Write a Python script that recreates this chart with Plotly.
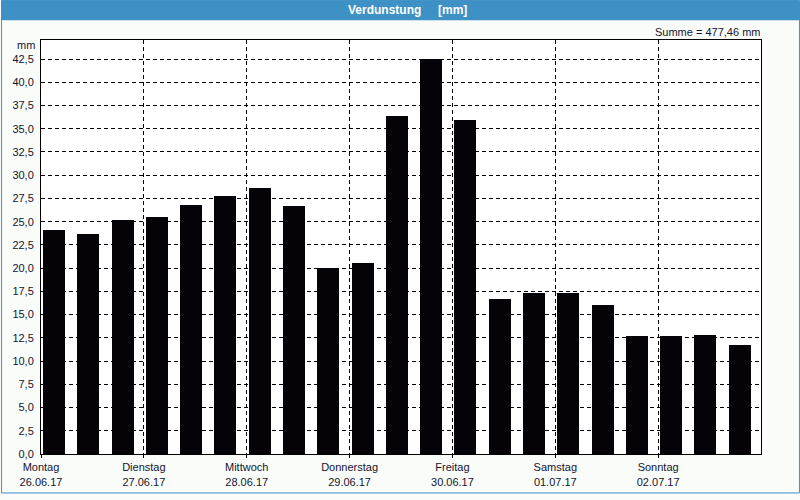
import plotly.graph_objects as go

# ---- data ----
day_names = ["Montag", "Dienstag", "Mittwoch", "Donnerstag", "Freitag", "Samstag", "Sonntag"]
day_dates = ["26.06.17", "27.06.17", "28.06.17", "29.06.17", "30.06.17", "01.07.17", "02.07.17"]
values = [24.1, 23.7, 25.2, 25.5, 26.75, 27.8, 28.6,
          26.65, 20.05, 20.6, 36.4, 42.55, 35.9, 16.65,
          17.3, 17.3, 16.0, 12.65, 12.65, 12.85, 11.7]
bars_per_day = 3
summe_text = "Summe = 477,46 mm"
title_text = "Verdunstung\u00a0\u00a0\u00a0\u00a0\u00a0[mm]"

# ---- layout constants ----
W, H = 800, 500
ML, MR, MT, MB = 40, 39, 40, 40
PW, PH = W - ML - MR, H - MT - MB
BLUE = "#3d91c5"
TXT = "#14142e"
FONT = "Liberation Sans, Arial, sans-serif"


def px_x(p):
    return (p - ML) / PW


def px_y(p):
    return (H - MB - p) / PH


x = list(range(len(values)))
n_days = len(day_names)
tickvals = [d * bars_per_day - 0.5 for d in range(n_days)]
ticktext = [f"{n}<br>{d}" for n, d in zip(day_names, day_dates)]

fig = go.Figure()
fig.add_trace(go.Bar(
    x=x, y=values,
    marker=dict(color="#050307", line=dict(width=0)),
    width=0.64, offset=-0.44,
    hoverinfo="skip",
))

fig.update_layout(
    width=W, height=H, autosize=False,
    margin=dict(l=ML, r=MR, t=MT, b=MB, pad=0),
    paper_bgcolor="#fafcfa",
    plot_bgcolor="#ffffff",
    showlegend=False,
    separators=",.",
    font=dict(family=FONT, size=11, color=TXT),
    bargap=0,
)

fig.update_xaxes(
    range=[-0.5, len(values) - 0.5],
    tickmode="array", tickvals=tickvals, ticktext=ticktext,
    showgrid=True, gridcolor="#000000", gridwidth=1, griddash="4px,3px",
    showline=True, linecolor="#000000", linewidth=1, mirror=True,
    ticks="outside", ticklen=3, tickcolor="#000000",
    zeroline=False,
    tickfont=dict(family=FONT, size=11, color=TXT),
)
fig.update_yaxes(
    range=[0, 44.55],
    tick0=0, dtick=2.5, tickformat=".1f",
    showgrid=True, gridcolor="#000000", gridwidth=1, griddash="4px,3px",
    showline=True, linecolor="#000000", linewidth=1, mirror=True,
    ticks="", zeroline=False,
    ticklabelstandoff=4,
    tickfont=dict(family=FONT, size=11, color=TXT),
)

# title bar and window border
fig.add_shape(type="rect", xref="paper", yref="paper",
              x0=px_x(0), x1=px_x(W), y0=px_y(20), y1=px_y(0),
              fillcolor=BLUE, line=dict(width=0), layer="above")
fig.add_shape(type="rect", xref="paper", yref="paper",
              x0=px_x(0.5), x1=px_x(W - 0.5), y0=px_y(H - 0.5), y1=px_y(0),
              fillcolor="rgba(0,0,0,0)", line=dict(color=BLUE, width=1), layer="above")

fig.add_annotation(text=f"<b>{title_text}</b>", xref="paper", yref="paper",
                   x=px_x(407), y=px_y(10), xanchor="center", yanchor="middle",
                   showarrow=False, font=dict(family=FONT, size=12, color="#ffffff"))
fig.add_annotation(text=summe_text, xref="paper", yref="paper",
                   x=px_x(762), y=px_y(32), xanchor="right", yanchor="middle",
                   showarrow=False, font=dict(family=FONT, size=11, color=TXT))
fig.add_annotation(text="mm", xref="paper", yref="paper",
                   x=px_x(36), y=px_y(45.5), xanchor="right", yanchor="middle",
                   showarrow=False, font=dict(family=FONT, size=11, color=TXT))

fig.write_html("out.html")
